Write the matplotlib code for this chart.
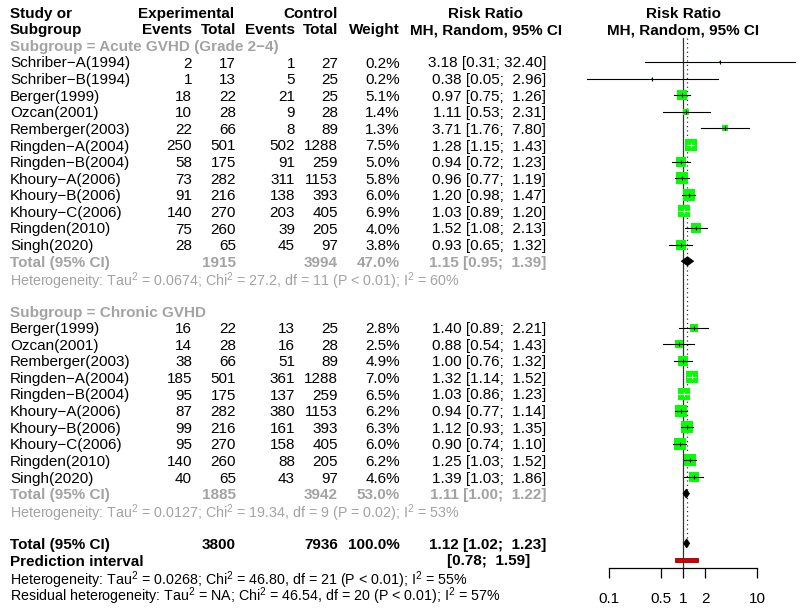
import numpy as np
import matplotlib
matplotlib.use("Agg")
import matplotlib.pyplot as plt
from matplotlib.patches import Polygon, Rectangle

plt.rcParams['font.family'] = ['Liberation Sans', 'DejaVu Sans']
plt.rcParams['font.size'] = 11
plt.rcParams['mathtext.fontset'] = 'custom'
plt.rcParams['mathtext.rm'] = 'Liberation Sans'
plt.rcParams['mathtext.it'] = 'Liberation Sans:italic'
plt.rcParams['mathtext.bf'] = 'Liberation Sans:bold'
plt.rcParams['mathtext.default'] = 'regular'

# ---------------- data ----------------
acute_study = ["Schriber−A(1994)", "Schriber−B(1994)", "Berger(1999)", "Ozcan(2001)",
               "Remberger(2003)", "Ringden−A(2004)", "Ringden−B(2004)", "Khoury−A(2006)",
               "Khoury−B(2006)", "Khoury−C(2006)", "Ringden(2010)", "Singh(2020)"]
acute_e_ev = [2, 1, 18, 10, 22, 250, 58, 73, 91, 140, 75, 28]
acute_e_tot = [17, 13, 22, 28, 66, 501, 175, 282, 216, 270, 260, 65]
acute_c_ev = [1, 5, 21, 9, 8, 502, 91, 311, 138, 203, 39, 45]
acute_c_tot = [27, 25, 25, 28, 89, 1288, 259, 1153, 393, 405, 205, 97]
acute_weight = [0.2, 0.2, 5.1, 1.4, 1.3, 7.5, 5.0, 5.8, 6.0, 6.9, 4.0, 3.8]
acute_rr = [3.18, 0.38, 0.97, 1.11, 3.71, 1.28, 0.94, 0.96, 1.20, 1.03, 1.52, 0.93]
acute_lo = [0.31, 0.05, 0.75, 0.53, 1.76, 1.15, 0.72, 0.77, 0.98, 0.89, 1.08, 0.65]
acute_hi = [32.40, 2.96, 1.26, 2.31, 7.80, 1.43, 1.23, 1.19, 1.47, 1.20, 2.13, 1.32]
acute_total = dict(e_tot=1915, c_tot=3994, weight=47.0, rr=1.15, lo=0.95, hi=1.39)
acute_het = "Heterogeneity: Tau$^2$ = 0.0674; Chi$^2$ = 27.2, df = 11 (P < 0.01); I$^2$ = 60%"

chronic_study = ["Berger(1999)", "Ozcan(2001)", "Remberger(2003)", "Ringden−A(2004)",
                 "Ringden−B(2004)", "Khoury−A(2006)", "Khoury−B(2006)", "Khoury−C(2006)",
                 "Ringden(2010)", "Singh(2020)"]
chronic_e_ev = [16, 14, 38, 185, 95, 87, 99, 95, 140, 40]
chronic_e_tot = [22, 28, 66, 501, 175, 282, 216, 270, 260, 65]
chronic_c_ev = [13, 16, 51, 361, 137, 380, 161, 158, 88, 43]
chronic_c_tot = [25, 28, 89, 1288, 259, 1153, 393, 405, 205, 97]
chronic_weight = [2.8, 2.5, 4.9, 7.0, 6.5, 6.2, 6.3, 6.0, 6.2, 4.6]
chronic_rr = [1.40, 0.88, 1.00, 1.32, 1.03, 0.94, 1.12, 0.90, 1.25, 1.39]
chronic_lo = [0.89, 0.54, 0.76, 1.14, 0.86, 0.77, 0.93, 0.74, 1.03, 1.03]
chronic_hi = [2.21, 1.43, 1.32, 1.52, 1.23, 1.14, 1.35, 1.10, 1.52, 1.86]
chronic_total = dict(e_tot=1885, c_tot=3942, weight=53.0, rr=1.11, lo=1.00, hi=1.22)
chronic_het = "Heterogeneity: Tau$^2$ = 0.0127; Chi$^2$ = 19.34, df = 9 (P = 0.02); I$^2$ = 53%"

overall = dict(e_tot=3800, c_tot=7936, weight=100.0, rr=1.12, lo=1.02, hi=1.23)
pred_lo, pred_hi = 0.78, 1.59
overall_het = "Heterogeneity: Tau$^2$ = 0.0268; Chi$^2$ = 46.80, df = 21 (P < 0.01); I$^2$ = 55%"
resid_het = "Residual heterogeneity: Tau$^2$ = NA; Chi$^2$ = 46.54, df = 20 (P < 0.01); I$^2$ = 57%"

ticks = [0.1, 0.5, 1, 2, 10]
tick_labels = ["0.1", "0.5", "1", "2", "10"]

# ---------------- layout ----------------
W, H = 800, 610
ROW0, DY = 62.0, 16.6
YTOP = (0 - ROW0) / DY
YBOT = (H - ROW0) / DY
PX_DEC = 74.0          # pixels per decade in forest panel
X1 = 683.0             # pixel position of RR = 1
GRAY = '#a3a3a3'
GREEN = '#00ff00'
HET_FS = 10.3

X_STUDY, X_EEV, X_ETOT, X_CEV, X_CTOT, X_W, X_RR = 10, 192, 236, 295, 338, 400, 546

fig = plt.figure(figsize=(W / 100, H / 100), dpi=100)
tax = fig.add_axes([0, 0, 1, 1])
tax.set_xlim(0, W)
tax.set_ylim(YBOT, YTOP)
tax.axis('off')

FL = 575
fax = fig.add_axes([FL / W, 0, (W - FL) / W, 1])
fax.set_xscale('log')
fax.set_xlim(10 ** ((FL - X1) / PX_DEC), 10 ** ((W - X1) / PX_DEC))
fax.set_ylim(YBOT, YTOP)
fax.patch.set_alpha(0)
for s in ['top', 'left', 'right']:
    fax.spines[s].set_visible(False)


def txt(x, row, s, ha='left', color='black', bold=False, fs=None):
    tax.text(x, row, s, ha=ha, va='center_baseline', color=color,
             fontweight='bold' if bold else 'normal', fontsize=fs)


def rr_str(rr, lo, hi):
    return f"{rr:.2f} [{lo:.2f}; {hi:5.2f}]"


# headers
txt(X_STUDY, -3, "Study or", bold=True)
txt(X_STUDY, -2, "Subgroup", bold=True)
txt(186, -3, "Experimental", ha='center', bold=True)
txt(X_EEV, -2, "Events", ha='right', bold=True)
txt(X_ETOT, -2, "Total", ha='right', bold=True)
txt(X_CTOT, -3, "Control", ha='right', bold=True)
txt(X_CEV, -2, "Events", ha='right', bold=True)
txt(X_CTOT, -2, "Total", ha='right', bold=True)
txt(X_W, -2, "Weight", ha='right', bold=True)
txt(486, -3, "Risk Ratio", ha='center', bold=True)
txt(486, -2, "MH, Random, 95% CI", ha='center', bold=True)
txt(X1, -3, "Risk Ratio", ha='center', bold=True)
txt(X1, -2, "MH, Random, 95% CI", ha='center', bold=True)


def diamond(tot, r, h=0.27):
    poly = Polygon([(tot['lo'], r), (tot['rr'], r - h), (tot['hi'], r), (tot['rr'], r + h)],
                   closed=True, facecolor='black', edgecolor='black', lw=0.6, zorder=5)
    fax.add_patch(poly)


def draw_group(start, label, study, eev, etot, cev, ctot, w, rr, lo, hi, tot, het):
    txt(X_STUDY, start, label, color=GRAY, bold=True)
    for k in range(len(study)):
        r = start + 1 + k
        txt(X_STUDY, r, study[k])
        txt(X_EEV, r, str(eev[k]), ha='right')
        txt(X_ETOT, r, str(etot[k]), ha='right')
        txt(X_CEV, r, str(cev[k]), ha='right')
        txt(X_CTOT, r, str(ctot[k]), ha='right')
        txt(X_W, r, f"{w[k]:.1f}%", ha='right')
        txt(X_RR, r, rr_str(rr[k], lo[k], hi[k]), ha='right')
        side_px = 4.7 * np.sqrt(w[k])
        fax.scatter([rr[k]], [r], marker='s', s=(side_px * 0.72) ** 2,
                    color=GREEN, linewidths=0, zorder=3)
        dlo = PX_DEC * np.log10(rr[k] / lo[k])
        dhi = PX_DEC * np.log10(hi[k] / rr[k])
        inside = max(dlo, dhi) < side_px / 2
        col = 'white' if inside else 'black'
        fax.plot([lo[k], hi[k]], [r, r], color=col, lw=0.8, zorder=4)
        fax.plot([rr[k]], [r], marker='|', ms=3, mew=0.8, color=col, zorder=4)
    rt = start + 1 + len(study)
    txt(X_STUDY, rt, "Total (95% CI)", color=GRAY, bold=True)
    txt(X_ETOT, rt, str(tot['e_tot']), ha='right', color=GRAY, bold=True)
    txt(X_CTOT, rt, str(tot['c_tot']), ha='right', color=GRAY, bold=True)
    txt(X_W, rt, f"{tot['weight']:.1f}%", ha='right', color=GRAY, bold=True)
    txt(X_RR, rt, rr_str(tot['rr'], tot['lo'], tot['hi']), ha='right', color=GRAY, bold=True)
    diamond(tot, rt)
    txt(X_STUDY, rt + 1, het, color=GRAY, fs=HET_FS)
    return rt + 3


nxt = draw_group(-1, "Subgroup = Acute GVHD (Grade 2−4)", acute_study, acute_e_ev, acute_e_tot,
                 acute_c_ev, acute_c_tot, acute_weight, acute_rr, acute_lo, acute_hi,
                 acute_total, acute_het)
nxt = draw_group(nxt, "Subgroup = Chronic GVHD", chronic_study, chronic_e_ev, chronic_e_tot,
                 chronic_c_ev, chronic_c_tot, chronic_weight, chronic_rr, chronic_lo, chronic_hi,
                 chronic_total, chronic_het)

r = nxt
txt(X_STUDY, r, "Total (95% CI)", bold=True)
txt(X_ETOT, r, str(overall['e_tot']), ha='right', bold=True)
txt(X_CTOT, r, str(overall['c_tot']), ha='right', bold=True)
txt(X_W, r, f"{overall['weight']:.1f}%", ha='right', bold=True)
txt(X_RR, r, rr_str(overall['rr'], overall['lo'], overall['hi']), ha='right', bold=True)
diamond(overall, r)
txt(X_STUDY, r + 1, "Prediction interval", bold=True)
txt(530, r + 1, f"[{pred_lo:.2f}; {pred_hi:5.2f}]", ha='right', bold=True)
fax.add_patch(Rectangle((pred_lo, r + 1 - 0.12), pred_hi - pred_lo, 0.24,
                        facecolor='#d40000', edgecolor='#8a0000', lw=0.6, zorder=5))
txt(X_STUDY, r + 2.05, overall_het, fs=HET_FS)
txt(X_STUDY, r + 3.0, resid_het, fs=HET_FS)

# reference lines
ytop_line = (38 - ROW0) / DY
yaxis = (568 - ROW0) / DY
fax.plot([1, 1], [ytop_line, yaxis], color='#333333', lw=0.9, zorder=2)
fax.plot([overall['rr'], overall['rr']], [ytop_line, r + 0.35], color='#333333',
         lw=0.9, ls=(0, (1, 2.5)), zorder=2)

# x axis
fax.spines['bottom'].set_position(('data', yaxis))
fax.spines['bottom'].set_bounds(0.1, 10)
fax.spines['bottom'].set_linewidth(0.9)
fax.set_xticks(ticks)
fax.set_xticklabels(tick_labels)
fax.xaxis.set_minor_locator(matplotlib.ticker.NullLocator())
fax.tick_params(axis='x', direction='out', length=7, width=0.9, pad=10, labelsize=11)
fax.set_yticks([])

fig.savefig("out.png", dpi=100)
